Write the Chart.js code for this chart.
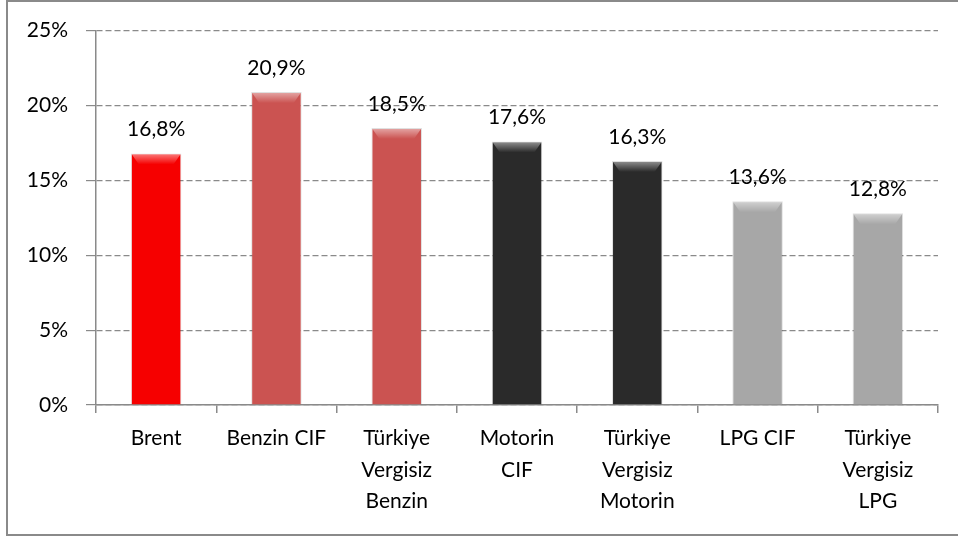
<!DOCTYPE html>
<html>
<head>
<meta charset="utf-8">
<script src="https://cdn.jsdelivr.net/npm/chart.js@4"></script>
<style>
  html, body { margin: 0; padding: 0; background: #fff; }
  #wrap { position: relative; width: 958px; height: 540px; }
  #frame { position: absolute; left: 6px; top: 0; width: 960px; height: 536px;
           border-left: 2px solid #8a8a8a; border-top: 2px solid #8a8a8a; border-bottom: 2px solid #8a8a8a; box-sizing: border-box; }
  canvas { position: absolute; left: 0; top: 0; }
</style>
</head>
<body>
<div id="wrap">
  <div id="frame"></div>
  <canvas id="c" width="958" height="540"></canvas>
</div>
<script>
// kategoriler ve değerler (%)
const categories = [
  ['Brent'],
  ['Benzin CIF'],
  ['Türkiye', 'Vergisiz', 'Benzin'],
  ['Motorin', 'CIF'],
  ['Türkiye', 'Vergisiz', 'Motorin'],
  ['LPG CIF'],
  ['Türkiye', 'Vergisiz', 'LPG'],
];
const values = [16.8, 20.9, 18.5, 17.6, 16.3, 13.6, 12.8];
const yTicks = [0, 5, 10, 15, 20, 25];

// renkler: [kenar, orta, açık]
const barColors = [
  ['#c00000', '#f60000', '#ff1a1a'],
  ['#9a3a38', '#cb5351', '#d46361'],
  ['#9a3a38', '#cb5351', '#d46361'],
  ['#0e0e0e', '#2a2a2a', '#363636'],
  ['#0e0e0e', '#2a2a2a', '#363636'],
  ['#7a7a7a', '#a7a7a7', '#b3b3b3'],
  ['#7a7a7a', '#a7a7a7', '#b3b3b3'],
];

const FONT = 'Lato, "Open Sans", sans-serif';

function barFill(ctx) {
  const chart = ctx.chart;
  const el = ctx.element;
  const c = barColors[ctx.dataIndex];
  if (!el || !chart.chartArea || !el.width) return c[1];
  const g = chart.ctx.createLinearGradient(el.x - el.width / 2, 0, el.x + el.width / 2, 0);
  g.addColorStop(0, c[0]);
  g.addColorStop(0.1, c[1]);
  g.addColorStop(0.5, c[2]);
  g.addColorStop(0.9, c[1]);
  g.addColorStop(1, c[0]);
  return g;
}

// üst kısımdaki hafif parlama + değer etiketleri
const barDecor = {
  id: 'barDecor',
  afterDatasetsDraw(chart) {
    const ctx = chart.ctx;
    const meta = chart.getDatasetMeta(0);
    ctx.save();
    meta.data.forEach((bar) => {
      const l = bar.x - bar.width / 2, t = bar.y;
      const g = ctx.createLinearGradient(0, t, 0, t + 11);
      g.addColorStop(0, 'rgba(255,255,255,0.5)');
      g.addColorStop(1, 'rgba(255,255,255,0)');
      ctx.fillStyle = g;
      ctx.beginPath();
      ctx.moveTo(l + 1, t + 1);
      ctx.lineTo(l + bar.width - 1, t + 1);
      ctx.lineTo(l + bar.width - 8, t + 11);
      ctx.lineTo(l + 8, t + 11);
      ctx.closePath();
      ctx.fill();
    });
    ctx.fillStyle = '#000';
    ctx.font = '21px ' + FONT;
    ctx.textAlign = 'center';
    ctx.textBaseline = 'middle';
    meta.data.forEach((bar, i) => {
      ctx.fillText(values[i].toFixed(1).replace('.', ',') + '%', bar.x, bar.y - 24);
    });
    ctx.restore();
  }
};

new Chart(document.getElementById('c'), {
  type: 'bar',
  data: {
    labels: categories,
    datasets: [{
      data: values,
      backgroundColor: barFill,
      borderColor: 'rgba(0,0,0,0.12)',
      borderWidth: 1,
      categoryPercentage: 1,
      barPercentage: 0.42,
    }],
  },
  options: {
    responsive: false,
    animation: false,
    layout: { padding: { left: 0, top: 29, right: 20, bottom: 0 } },
    plugins: { legend: { display: false }, tooltip: { enabled: false } },
    scales: {
      x: {
        afterFit(s) { s.height = 135; },
        grid: { drawOnChartArea: false, drawTicks: true, tickLength: 8, color: '#8a8a8a', lineWidth: 1.5 },
        border: { color: '#8a8a8a', width: 1.5 },
        ticks: { color: '#000', padding: 10, maxRotation: 0, autoSkip: false,
                 font: { family: FONT, size: 21, lineHeight: 1.49 } },
      },
      y: {
        min: 0, max: 25,
        afterFit(s) { s.width = 96; },
        afterBuildTicks(s) { s.ticks = yTicks.map(v => ({ value: v })); },
        grid: { color: '#8a8a8a', lineWidth: 1.2, tickLength: 10, tickBorderDash: [] },
        border: { color: '#8a8a8a', width: 1.5, dash: [6, 3] },
        ticks: { color: '#000', padding: 18, font: { family: FONT, size: 21 },
                 callback: v => v + '%' },
      },
    },
  },
  plugins: [barDecor],
});
</script>
</body>
</html>
